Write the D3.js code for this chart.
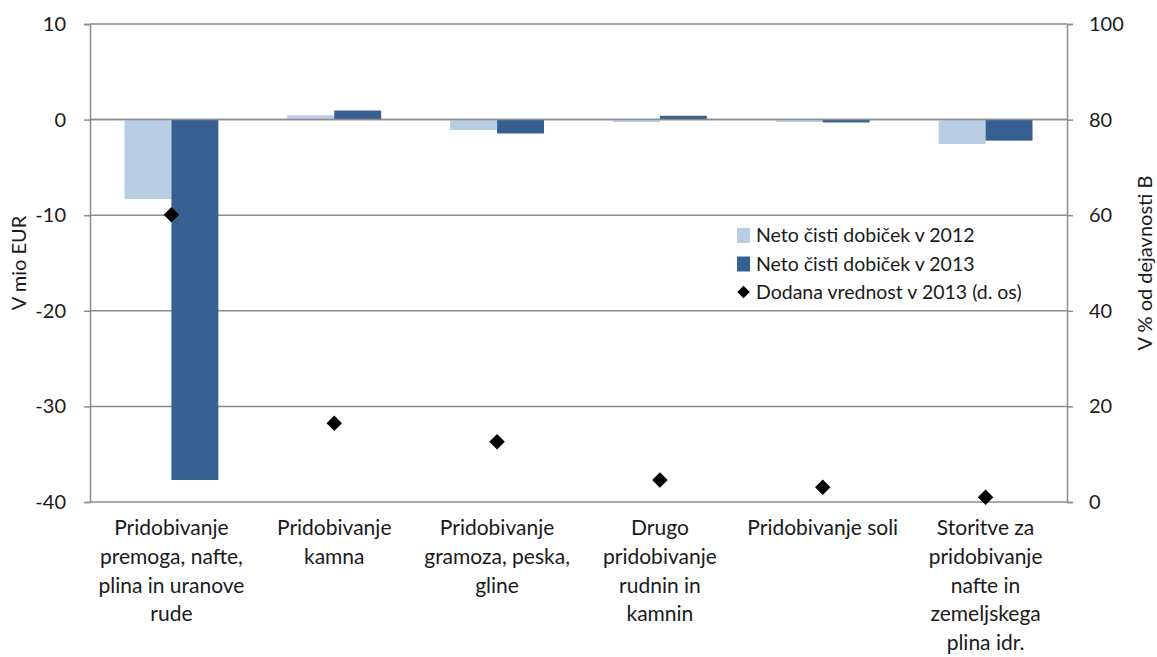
<!DOCTYPE html>
<html>
<head>
<meta charset="utf-8">
<script src="https://d3js.org/d3.v7.min.js"></script>
<style>
  body { margin: 0; background: #fff; }
  svg text { font-family: Lato, "Open Sans", sans-serif; fill: #1a1a1a; }
</style>
</head>
<body>
<svg id="chart"></svg>
<script>
const categories = [
  "Pridobivanje\npremoga, nafte,\nplina in uranove\nrude",
  "Pridobivanje\nkamna",
  "Pridobivanje\ngramoza, peska,\ngline",
  "Drugo\npridobivanje\nrudnin in\nkamnin",
  "Pridobivanje soli",
  "Storitve za\npridobivanje\nnafte in\nzemeljskega\nplina idr."
];
const profit2012 = [-8.3, 0.45, -1.1, -0.25, -0.25, -2.55];
const profit2013 = [-37.7, 0.95, -1.45, 0.4, -0.3, -2.2];
const valueAdded2013 = [60.1, 16.5, 12.6, 4.6, 3.1, 1.0];
const leftTicks = [10, 0, -10, -20, -30, -40];
const rightTicks = [100, 80, 60, 40, 20, 0];
const seriesNames = ["Neto čisti dobiček v 2012", "Neto čisti dobiček v 2013", "Dodana vrednost v 2013 (d. os)"];

const W = 1157, H = 657;
const plot = { left: 90, right: 1067, top: 24, bottom: 502 };
const svg = d3.select("#chart").attr("width", W).attr("height", H);

const x = d3.scaleBand().domain(d3.range(categories.length)).range([plot.left, plot.right]);
const xi = d3.scaleBand().domain([0, 1]).range([0, x.bandwidth()]).paddingInner(0).paddingOuter(0.735);
const yL = d3.scaleLinear().domain([-40, 10]).range([plot.bottom, plot.top]);
const yR = d3.scaleLinear().domain([0, 100]).range([plot.bottom, plot.top]);

const gridColor = "#8c8c8c";
const fmt = d => String(d); // plain hyphen minus, as in the original

// gridlines
svg.append("g").selectAll("line").data(leftTicks).join("line")
  .attr("x1", plot.left).attr("x2", plot.right)
  .attr("y1", d => yL(d)).attr("y2", d => yL(d))
  .attr("stroke", gridColor).attr("stroke-width", 1.5);

// bars
const colors = ["#b9cde5", "#376092"];
[profit2012, profit2013].forEach((vals, s) => {
  svg.append("g").selectAll("rect").data(vals).join("rect")
    .attr("x", (d, i) => x(i) + xi(s))
    .attr("width", xi.bandwidth())
    .attr("y", d => yL(Math.max(0, d)))
    .attr("height", d => Math.abs(yL(d) - yL(0)))
    .attr("fill", colors[s]);
});

// zero line above bars
svg.append("line")
  .attr("x1", plot.left).attr("x2", plot.right)
  .attr("y1", yL(0)).attr("y2", yL(0))
  .attr("stroke", gridColor).attr("stroke-width", 1.5);

// left axis
const axL = svg.append("g").attr("transform", `translate(${plot.left},0)`)
  .call(d3.axisLeft(yL).tickValues(leftTicks).tickFormat(fmt).tickSize(6).tickPadding(18));
axL.select(".domain").attr("stroke", gridColor).attr("stroke-width", 1.5);
axL.selectAll(".tick line").attr("stroke", gridColor).attr("stroke-width", 1.5);
axL.selectAll(".tick text").attr("font-size", 20).attr("font-family", "Lato, sans-serif").attr("fill", "#1a1a1a");

// right axis
const axR = svg.append("g").attr("transform", `translate(${plot.right},0)`)
  .call(d3.axisRight(yR).tickValues(rightTicks).tickFormat(fmt).tickSize(6).tickPadding(16));
axR.select(".domain").attr("stroke", gridColor).attr("stroke-width", 1.5);
axR.selectAll(".tick line").attr("stroke", gridColor).attr("stroke-width", 1.5);
axR.selectAll(".tick text").attr("font-size", 20).attr("font-family", "Lato, sans-serif").attr("fill", "#1a1a1a");

// diamonds
svg.append("g").selectAll("path").data(valueAdded2013).join("path")
  .attr("d", d3.symbol(d3.symbolSquare, 120))
  .attr("transform", (d, i) => `translate(${x(i) + x.bandwidth() / 2},${yR(d)}) rotate(45)`)
  .attr("fill", "#000");

// category labels
const catG = svg.append("g");
categories.forEach((c, i) => {
  const t = catG.append("text")
    .attr("x", x(i) + x.bandwidth() / 2)
    .attr("y", 535)
    .attr("text-anchor", "middle")
    .attr("font-size", 21);
  c.split("\n").forEach((line, k) => {
    t.append("tspan").attr("x", x(i) + x.bandwidth() / 2).attr("dy", k === 0 ? 0 : 28.8).text(line);
  });
});

// axis titles
svg.append("text")
  .attr("transform", `translate(26,263) rotate(-90)`)
  .attr("text-anchor", "middle").attr("font-size", 20)
  .text("V mio EUR");
svg.append("text")
  .attr("transform", `translate(1152,263) rotate(-90)`)
  .attr("text-anchor", "middle").attr("font-size", 20)
  .text("V % od dejavnosti B");

// legend
const leg = svg.append("g").attr("transform", "translate(737,235)");
seriesNames.forEach((name, i) => {
  const g = leg.append("g").attr("transform", `translate(0,${i * 28.5})`);
  if (i < 2) {
    g.append("rect").attr("x", 0).attr("y", -7).attr("width", 13).attr("height", 15).attr("fill", colors[i]);
  } else {
    g.append("path").attr("d", d3.symbol(d3.symbolSquare, 80))
      .attr("transform", "translate(6.5,0) rotate(45)").attr("fill", "#000");
  }
  g.append("text").attr("x", 19).attr("y", 7).attr("font-size", 19.5).text(name);
});
</script>
</body>
</html>
